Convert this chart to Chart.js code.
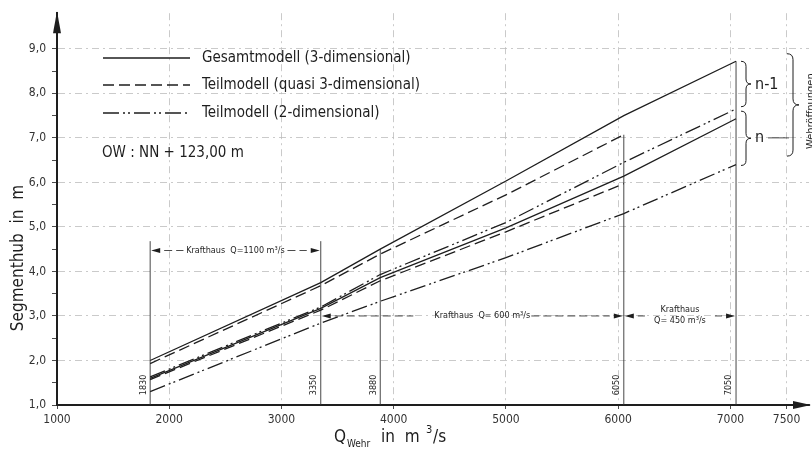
<!DOCTYPE html>
<html>
<head>
<meta charset="utf-8">
<script src="https://cdn.jsdelivr.net/npm/chart.js@4"></script>
<style>
  html, body { margin: 0; padding: 0; background: #fff; }
  #wrap { width: 812px; height: 459px; position: relative; }
</style>
</head>
<body>
<div id="wrap"><canvas id="chart"></canvas></div>
<script>
// ============================
// DATA
// ============================
const FONT = '"DejaVu Sans Condensed", "Liberation Sans Narrow", "DejaVu Sans", sans-serif';
const INK = "#1e1e1e";
const GRID = "#bdbdbd";

// Q_Wehr break points (m3/s)
const qPoints = [1830, 3350, 3880, 5000, 6050, 7050];

// Segmenthub (m), n-1 Wehröffnungen
const gesamtN1 = [2.0, 3.75, 4.5, 6.03, 7.5, 8.72];
const quasiN1 = [1.93, 3.68, 4.39, 5.72, 7.07];
const zweiDN1 = [1.63, 3.2, 3.93, 5.1, 6.45, 7.65];

// Segmenthub (m), n Wehröffnungen
const gesamtN = [1.6, 3.17, 3.86, 4.98, 6.14, 7.43];
const quasiN = [1.57, 3.13, 3.79, 4.89, 5.97];
const zweiDN = [1.3, 2.84, 3.33, 4.31, 5.3, 6.4];

// vertical reference lines
const qMarks = [1830, 3350, 3880, 6050, 7050];
const qMarkTops = [4.68, 4.68, 4.5, 7.07, 8.72];

// ticks
const qTicks = [1000, 2000, 3000, 4000, 5000, 6000, 7000, 7500];
const hubTicks = [1.0, 1.5, 2.0, 2.5, 3.0, 3.5, 4.0, 4.5, 5.0, 5.5, 6.0, 6.5, 7.0, 7.5, 8.0, 8.5, 9.0];

const DASHED = [11, 5];
const DASHDOT = [16, 4, 2, 3, 2, 4];
const GRID_DASH = [7, 4, 2, 4];

function toXY(xs, ys) {
  return ys.map((y, i) => ({ x: xs[i], y: y }));
}

function seriesSet(label, ys, dash) {
  return {
    label: label,
    data: toXY(qPoints, ys),
    borderColor: INK,
    borderWidth: 1.3,
    borderDash: dash,
    pointRadius: 0,
    fill: false,
    tension: 0
  };
}

const datasets = [
  seriesSet("Gesamtmodell n-1", gesamtN1, []),
  seriesSet("Gesamtmodell n", gesamtN, []),
  seriesSet("Teilmodell quasi n-1", quasiN1, DASHED),
  seriesSet("Teilmodell quasi n", quasiN, DASHED),
  seriesSet("Teilmodell 2D n-1", zweiDN1, DASHDOT),
  seriesSet("Teilmodell 2D n", zweiDN, DASHDOT)
];

qMarks.forEach((q, i) => {
  datasets.push({
    label: "mark " + q,
    data: [{ x: q, y: 1.0 }, { x: q, y: qMarkTops[i] }],
    borderColor: "#333",
    borderWidth: 0.9,
    pointRadius: 0,
    fill: false
  });
});

// ============================
// DRAWING HELPERS
// ============================
function arrowHead(ctx, x, y, dir) {
  ctx.beginPath();
  ctx.moveTo(x, y);
  ctx.lineTo(x - dir * 9, y - 2.5);
  ctx.lineTo(x - dir * 9, y + 2.5);
  ctx.closePath();
  ctx.fill();
}

function brace(ctx, x, y1, y2, w) {
  const ym = (y1 + y2) / 2;
  const h = w / 2;
  ctx.beginPath();
  ctx.moveTo(x, y1);
  ctx.quadraticCurveTo(x + h, y1, x + h, y1 + h);
  ctx.lineTo(x + h, ym - h);
  ctx.quadraticCurveTo(x + h, ym, x + w, ym);
  ctx.quadraticCurveTo(x + h, ym, x + h, ym + h);
  ctx.lineTo(x + h, y2 - h);
  ctx.quadraticCurveTo(x + h, y2, x, y2);
  ctx.stroke();
}

function dimLine(ctx, x1, x2, y, textW) {
  const mid = (x1 + x2) / 2;
  ctx.save();
  ctx.lineWidth = 0.8;
  ctx.setLineDash([8, 4]);
  ctx.beginPath();
  ctx.moveTo(x1 + 14, y);
  ctx.lineTo(mid - textW / 2 - 4, y);
  ctx.moveTo(mid + textW / 2 + 4, y);
  ctx.lineTo(x2 - 14, y);
  ctx.stroke();
  ctx.restore();
  arrowHead(ctx, x1 + 1, y, -1);
  arrowHead(ctx, x2 - 1, y, 1);
}

const annotations = {
  id: "annotations",
  afterDraw(chart) {
    const ctx = chart.ctx;
    const sx = chart.scales.x;
    const sy = chart.scales.y;
    const area = chart.chartArea;
    ctx.save();
    ctx.strokeStyle = INK;
    ctx.fillStyle = INK;

    // axis arrows
    ctx.beginPath();
    ctx.moveTo(area.left, area.top - 2);
    ctx.lineTo(area.left - 4, area.top + 20);
    ctx.lineTo(area.left + 4, area.top + 20);
    ctx.closePath();
    ctx.fill();
    ctx.beginPath();
    ctx.moveTo(area.right + 2, area.bottom);
    ctx.lineTo(area.right - 16, area.bottom - 4);
    ctx.lineTo(area.right - 16, area.bottom + 4);
    ctx.closePath();
    ctx.fill();

    // legend
    const legendRows = [
      ["Gesamtmodell (3-dimensional)", [], 58],
      ["Teilmodell (quasi 3-dimensional)", DASHED, 85],
      ["Teilmodell (2-dimensional)", DASHDOT, 113]
    ];
    ctx.font = "15px " + FONT;
    ctx.textBaseline = "middle";
    ctx.textAlign = "left";
    legendRows.forEach(row => {
      ctx.save();
      ctx.lineWidth = 1.3;
      ctx.setLineDash(row[1]);
      ctx.beginPath();
      ctx.moveTo(103, row[2]);
      ctx.lineTo(190, row[2]);
      ctx.stroke();
      ctx.restore();
      ctx.fillText(row[0], 202, row[2]);
    });
    ctx.fillText("OW : NN + 123,00 m", 102, 153);

    // Krafthaus dimension lines
    ctx.font = "9px " + FONT;
    ctx.textAlign = "center";
    const x1830 = sx.getPixelForValue(1830);
    const x3350 = sx.getPixelForValue(3350);
    const x6050 = sx.getPixelForValue(6050);
    const x7050 = sx.getPixelForValue(7050);

    let y = sy.getPixelForValue(4.47);
    ctx.fillText("Krafthaus  Q=1100 m\u00B3/s", (x1830 + x3350) / 2, y);
    dimLine(ctx, x1830, x3350, y, 96);

    y = sy.getPixelForValue(3.0);
    ctx.fillText("Krafthaus  Q= 600 m\u00B3/s", (x3350 + x6050) / 2 + 10, y);
    dimLine(ctx, x3350, x6050, y, 110);
    ctx.fillText("Krafthaus", (x6050 + x7050) / 2, y - 6);
    ctx.fillText("Q= 450 m\u00B3/s", (x6050 + x7050) / 2, y + 5);
    dimLine(ctx, x6050, x7050, y, 62);

    // rotated Q labels
    ctx.font = "9px " + FONT;
    qMarks.forEach(q => {
      ctx.save();
      ctx.translate(sx.getPixelForValue(q) - 7, sy.getPixelForValue(1.45));
      ctx.rotate(-Math.PI / 2);
      ctx.fillText(String(q), 0, 0);
      ctx.restore();
    });

    // braces
    ctx.lineWidth = 1;
    brace(ctx, 741, sy.getPixelForValue(8.72), sy.getPixelForValue(7.7), 10);
    brace(ctx, 741, sy.getPixelForValue(7.6), sy.getPixelForValue(6.38), 10);
    brace(ctx, 787, sy.getPixelForValue(8.89), sy.getPixelForValue(6.59), 12);
    ctx.font = "16px " + FONT;
    ctx.textAlign = "left";
    ctx.fillText("n-1", 755, sy.getPixelForValue(8.2));
    ctx.fillText("n", 755, sy.getPixelForValue(7.0));
    ctx.beginPath();
    ctx.lineWidth = 0.8;
    ctx.moveTo(768, sy.getPixelForValue(7.0));
    ctx.lineTo(789, sy.getPixelForValue(7.0));
    ctx.stroke();

    ctx.save();
    ctx.font = "11px " + FONT;
    ctx.textAlign = "center";
    ctx.translate(811, sy.getPixelForValue(7.6));
    ctx.rotate(-Math.PI / 2);
    ctx.fillText("Wehröffnungen", 0, 0);
    ctx.restore();

    // axis titles
    ctx.save();
    ctx.font = "17px " + FONT;
    ctx.textAlign = "center";
    ctx.translate(19, sy.getPixelForValue(4.3));
    ctx.rotate(-Math.PI / 2);
    ctx.fillText("Segmenthub  in  m", 0, 0);
    ctx.restore();

    ctx.textAlign = "left";
    ctx.textBaseline = "alphabetic";
    ctx.font = "17px " + FONT;
    ctx.fillText("Q", 334, 442);
    ctx.font = "10px " + FONT;
    ctx.fillText("Wehr", 347, 447);
    ctx.font = "17px " + FONT;
    ctx.fillText("in  m", 381, 442);
    ctx.font = "11px " + FONT;
    ctx.fillText("3", 426, 433);
    ctx.font = "17px " + FONT;
    ctx.fillText("/s", 433, 442);

    ctx.restore();
  }
};

// ============================
// CHART
// ============================
new Chart(document.getElementById("chart").getContext("2d"), {
  type: "line",
  data: { datasets: datasets },
  options: {
    responsive: true,
    maintainAspectRatio: false,
    animation: false,
    layout: { padding: { top: 11, right: 3, left: 0, bottom: 0 } },
    plugins: {
      legend: { display: false },
      tooltip: { enabled: false }
    },
    scales: {
      x: {
        type: "linear",
        min: 1000,
        max: 7700,
        afterBuildTicks: scale => {
          scale.ticks = qTicks.map(v => ({ value: v }));
        },
        afterFit: scale => { scale.height = 54; },
        ticks: {
          color: "#333",
          font: { family: FONT, size: 12 },
          padding: 4,
          maxRotation: 0,
          callback: v => String(v)
        },
        grid: {
          color: ctx => (ctx.tick && ctx.tick.value > 1000 ? GRID : "rgba(0,0,0,0)"),
          lineWidth: 0.8,
          tickLength: 4,
          tickColor: INK
        },
        border: { display: true, color: INK, width: 2, dash: GRID_DASH }
      },
      y: {
        type: "linear",
        min: 1.0,
        max: 9.8,
        afterBuildTicks: scale => {
          scale.ticks = hubTicks.map(v => ({ value: v }));
        },
        afterFit: scale => { scale.width = 57; },
        ticks: {
          color: "#333",
          font: { family: FONT, size: 12 },
          padding: 6,
          callback: v => (Number.isInteger(v) ? v.toFixed(1).replace(".", ",") : "")
        },
        grid: {
          color: ctx => (ctx.tick && Number.isInteger(ctx.tick.value) && ctx.tick.value > 1 ? GRID : "rgba(0,0,0,0)"),
          lineWidth: 0.8,
          tickLength: 5,
          tickColor: INK
        },
        border: { display: true, color: INK, width: 2, dash: GRID_DASH }
      }
    }
  },
  plugins: [annotations]
});
</script>
</body>
</html>
